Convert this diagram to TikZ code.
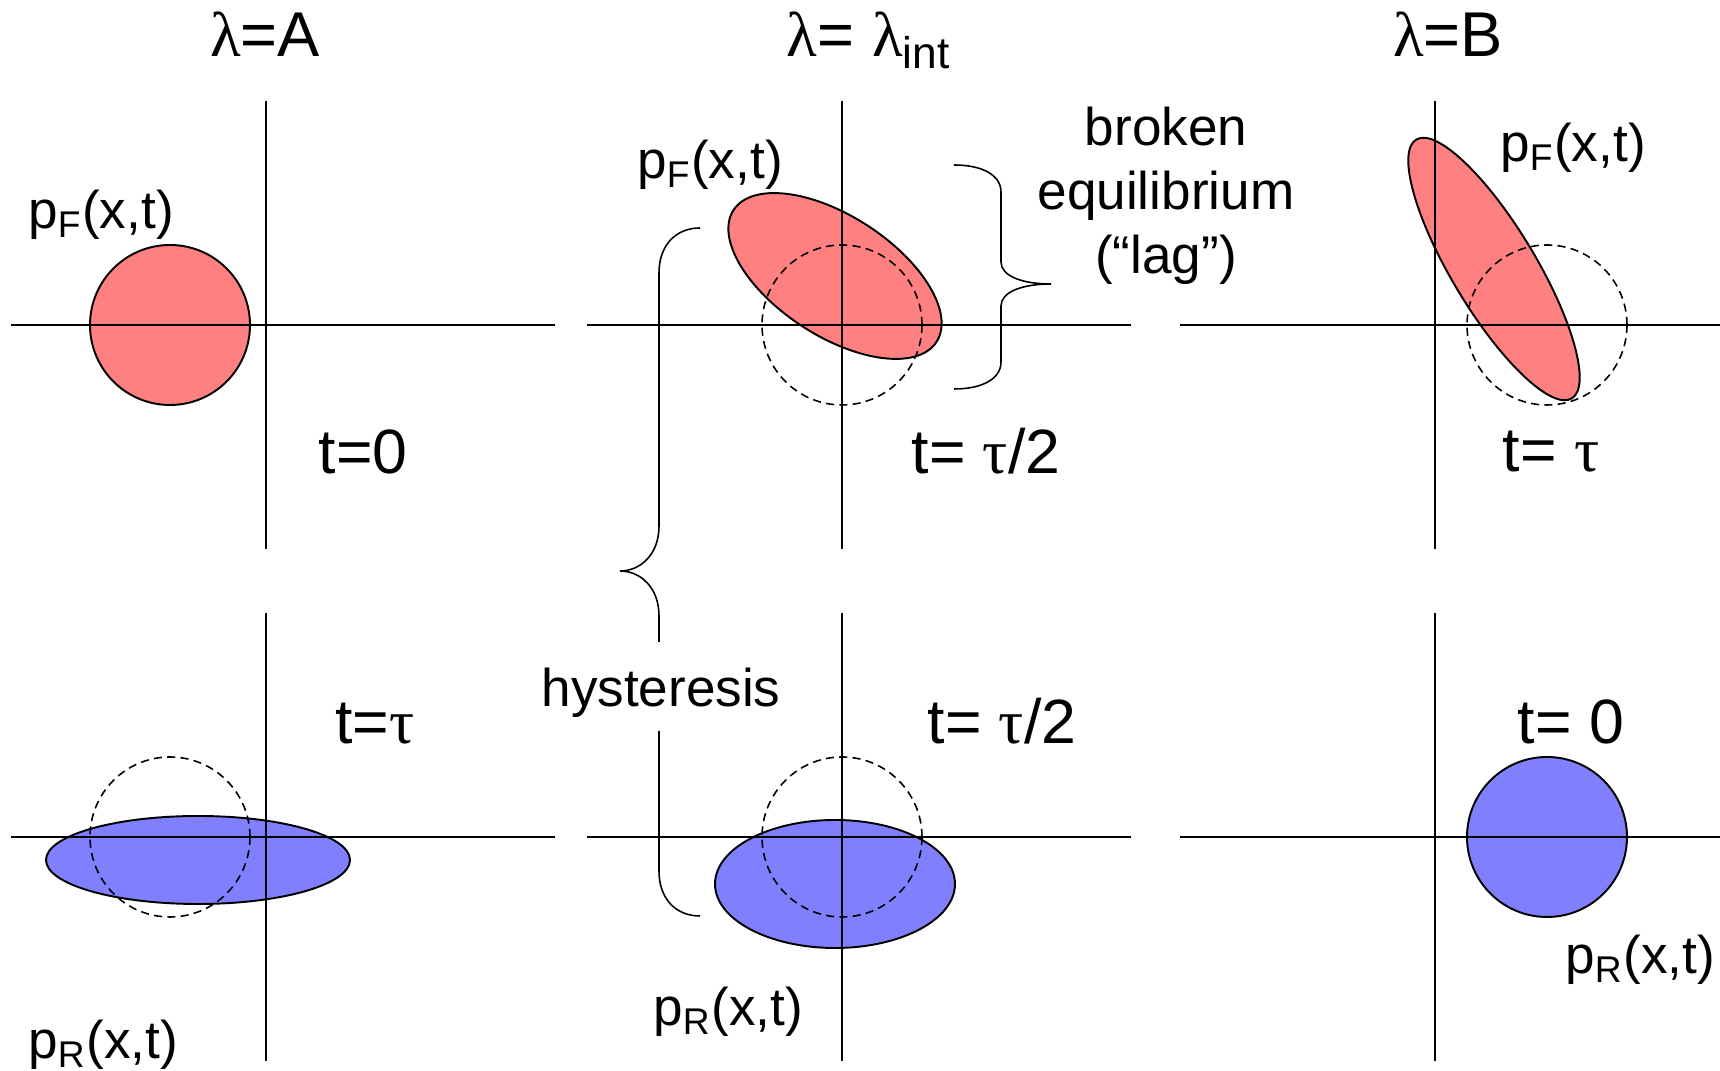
\documentclass[tikz,border=0pt]{standalone}
\usepackage{fontspec}
\setmainfont{Liberation Sans}
\newfontfamily\grk{Liberation Serif}
\usetikzlibrary{positioning}
\definecolor{fred}{RGB}{255,128,128}
\definecolor{rblue}{RGB}{128,128,255}

\begin{document}
\begin{tikzpicture}[x=0.01cm, y=-0.01cm]
\tikzstyle{axis}=[line width=0.4pt]
\tikzstyle{dist}=[draw, line width=0.55pt]
\tikzstyle{equil}=[draw, line width=0.45pt, dash pattern=on 2.3pt off 1.5pt]
\tikzstyle{lbl}=[inner sep=0pt, anchor=base, font=\fontsize{15.1}{18.2}\selectfont]
\tikzstyle{tlbl}=[inner sep=0pt, anchor=base, font=\fontsize{17.8}{20}\selectfont]
\tikzstyle{ttl}=[inner sep=0pt, anchor=base, font=\fontsize{18}{20}\selectfont]
\tikzstyle{brace}=[line width=0.45pt]
\useasboundingbox (0,0) rectangle (1720,1071);
\fill[white] (0,0) rectangle (1720,1071);

\draw[dist, fill=fred] (170,325) circle [radius=80];
\draw[dist, fill=fred, rotate around={-33:(835,276)}] (835,276) ellipse [x radius=121, y radius=60];
\draw[dist, fill=fred, rotate around={-59:(1494,269)}] (1494,269) ellipse [x radius=151, y radius=42];
\draw[dist, fill=rblue] (198,860) ellipse [x radius=152, y radius=44];
\draw[dist, fill=rblue] (835,884) ellipse [x radius=120, y radius=64];
\draw[dist, fill=rblue] (1547,837) circle [radius=80];

\foreach \cx in {266,842,1435}{
  \foreach \cy in {325,837}{
    \draw[axis] (\cx-255,\cy) -- (\cx+289,\cy);
    \draw[axis] (\cx,\cy-224) -- (\cx,\cy+224);
  }
}

\foreach \cx/\cy in {842/325,1547/325,170/837,842/837}{\draw[equil] (\cx,\cy) circle [radius=80];}

\node[ttl] (titleA) at (265,57) {{\grk λ}=A};
\node[ttl] (titleI) at (869,57) {{\grk λ}= {\grk λ}\textsubscript{int}};
\node[ttl] (titleB) at (1448,57) {{\grk λ}=B};

\node[lbl] (pfA) at (101,229) {p\textsubscript{F}(x,t)};
\node[lbl] (pfI) at (710,179) {p\textsubscript{F}(x,t)};
\node[lbl] (pfB) at (1573,162) {p\textsubscript{F}(x,t)};
\node[lbl] (prA) at (103,1059) {p\textsubscript{R}(x,t)};
\node[lbl] (prI) at (728,1026) {p\textsubscript{R}(x,t)};
\node[lbl] (prB) at (1640,974) {p\textsubscript{R}(x,t)};

\node[tlbl] (tA) at (363,474) {t=0};
\node[tlbl] (tI) at (986,474) {t= {\grk τ}/2};
\node[tlbl] (tB) at (1551,472) {t= {\grk τ}};
\node[tlbl] (rA) at (375,744) {t={\grk τ}};
\node[tlbl] (rI) at (1002,744) {t= {\grk τ}/2};
\node[tlbl] (rB) at (1571,744) {t= 0};

\node[lbl, align=center] (lag) at (1166,274) {broken\\equilibrium\\(“lag”)};
\node[lbl] (hyst) at (661,707) {hysteresis};

\coordinate (lagtop) at (954,165);
\coordinate (lagtip) at (1051,284);
\coordinate (lagbot) at (954,389);
\draw[brace] (lagtop) .. controls (982,165) and (1001,175) .. (1001,192) -- (1001,262)
  .. controls (1001,276) and (1022,284) .. (lagtip)
  .. controls (1022,284) and (1001,292) .. (1001,306) -- (1001,362)
  .. controls (1001,379) and (982,389) .. (lagbot);

\coordinate (hystop) at (700,228);
\coordinate (hystip) at (620,571);
\coordinate (hysbot) at (700,916);
\draw[brace] (hystop) .. controls (676,228) and (659,245) .. (659,273) -- (659,526)
  .. controls (659,555) and (640,571) .. (hystip)
  .. controls (640,571) and (659,587) .. (659,616) -- (659,642)
  (659,731) -- (659,871) .. controls (659,899) and (676,916) .. (hysbot);
\end{tikzpicture}
\end{document}
